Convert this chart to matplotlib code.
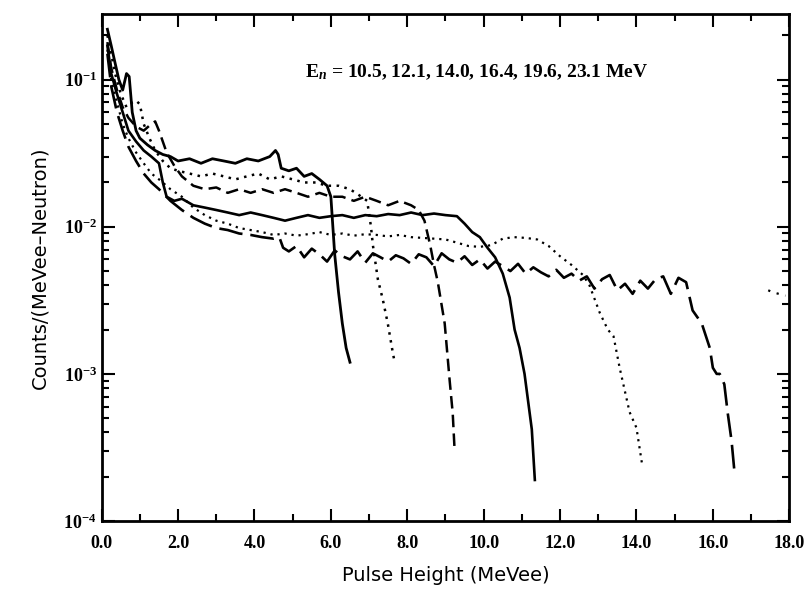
import numpy as np
import matplotlib
matplotlib.use("Agg")
import matplotlib.pyplot as plt
from matplotlib.ticker import LogLocator, MultipleLocator, NullFormatter

# neutron energies (MeV) shown in the annotation
energies = [10.5, 12.1, 14.0, 16.4, 19.6, 23.1]

# --- 10.5 MeV (solid) ---
x_105 = [0.15, 0.25, 0.35, 0.45, 0.55, 0.65, 0.72, 0.8, 0.9, 1.0,
         1.2, 1.4, 1.6, 1.8, 2.0, 2.3, 2.6, 2.9, 3.2, 3.5,
         3.8, 4.1, 4.4, 4.55, 4.62, 4.7, 4.9, 5.1, 5.3, 5.5,
         5.7, 5.9, 6.0, 6.1, 6.2, 6.3, 6.4, 6.5]
y_105 = [0.22, 0.17, 0.13, 0.10, 0.085, 0.11, 0.105, 0.06, 0.045, 0.04,
         0.036, 0.033, 0.031, 0.030, 0.028, 0.029, 0.027, 0.029, 0.028, 0.027,
         0.029, 0.028, 0.030, 0.033, 0.031, 0.025, 0.024, 0.025, 0.022, 0.023,
         0.021, 0.019, 0.016, 0.0065, 0.0036, 0.0022, 0.0015, 0.0012]

# --- 12.1 MeV (dotted) ---
x_121 = [0.15, 0.25, 0.35, 0.5, 0.65, 0.8, 0.9, 1.0, 1.1, 1.25,
         1.4, 1.6, 1.8, 2.0, 2.3, 2.6, 2.9, 3.2, 3.5, 3.8,
         4.1, 4.4, 4.7, 5.0, 5.3, 5.6, 5.9, 6.2, 6.5, 6.8,
         6.95, 7.05, 7.1, 7.23, 7.36, 7.49, 7.62, 7.67]
y_121 = [0.20, 0.15, 0.11, 0.08, 0.065, 0.07, 0.072, 0.068, 0.05, 0.04,
         0.033, 0.028, 0.025, 0.024, 0.023, 0.022, 0.023, 0.022, 0.021, 0.022,
         0.023, 0.021, 0.022, 0.021, 0.020, 0.020, 0.019, 0.019, 0.018, 0.016,
         0.015, 0.010, 0.0075, 0.0044, 0.0032, 0.0022, 0.0014, 0.0012]

# --- 14.0 MeV (dashed) ---
x_140 = [0.15, 0.25, 0.4, 0.55, 0.7, 0.9, 1.1, 1.3, 1.4, 1.5,
         1.7, 1.9, 2.1, 2.4, 2.7, 3.0, 3.3, 3.6, 3.9, 4.2,
         4.5, 4.8, 5.1, 5.4, 5.7, 6.0, 6.3, 6.6, 6.9, 7.2,
         7.5, 7.8, 8.1, 8.3, 8.45, 8.6, 8.7, 8.8, 8.98, 9.11,
         9.19, 9.24]
y_140 = [0.18, 0.12, 0.085, 0.065, 0.055, 0.048, 0.045, 0.05, 0.052, 0.045,
         0.032, 0.026, 0.022, 0.019, 0.018, 0.0185, 0.017, 0.018, 0.017, 0.018,
         0.017, 0.018, 0.017, 0.016, 0.017, 0.016, 0.016, 0.015, 0.016, 0.015,
         0.014, 0.015, 0.014, 0.013, 0.011, 0.0075, 0.0055, 0.0042, 0.0022, 0.0009,
         0.00054, 0.0003]

# --- 16.4 MeV (solid) ---
x_164 = [0.15, 0.25, 0.4, 0.55, 0.7, 0.9, 1.1, 1.3, 1.5, 1.6,
         1.7, 1.9, 2.1, 2.4, 2.7, 3.0, 3.3, 3.6, 3.9, 4.2,
         4.5, 4.8, 5.1, 5.4, 5.7, 6.0, 6.3, 6.6, 6.9, 7.2,
         7.5, 7.8, 8.1, 8.4, 8.7, 9.0, 9.3, 9.5, 9.7, 9.9,
         10.1, 10.3, 10.5, 10.68, 10.81, 10.94, 11.07, 11.26, 11.34]
y_164 = [0.17, 0.11, 0.08, 0.06, 0.045, 0.038, 0.033, 0.03, 0.027, 0.02,
         0.016, 0.015, 0.0155, 0.014, 0.0135, 0.013, 0.0125, 0.012, 0.0125, 0.012,
         0.0115, 0.011, 0.0115, 0.012, 0.0115, 0.0118, 0.012, 0.0115, 0.012, 0.0118,
         0.0122, 0.012, 0.0125, 0.012, 0.0123, 0.012, 0.0118, 0.0105, 0.0092, 0.0085,
         0.0072, 0.0062, 0.0048, 0.0033, 0.002, 0.0015, 0.001, 0.00042, 0.00019]

# --- 19.6 MeV (dotted) ---
x_196 = [0.15, 0.25, 0.4, 0.55, 0.7, 0.9, 1.1, 1.3, 1.5, 1.8,
         2.1, 2.4, 2.7, 3.0, 3.3, 3.6, 3.9, 4.2, 4.5, 4.8,
         5.1, 5.4, 5.7, 6.0, 6.3, 6.6, 6.9, 7.2, 7.5, 7.8,
         8.1, 8.4, 8.7, 9.0, 9.3, 9.6, 9.9, 10.2, 10.5, 10.8,
         11.1, 11.4, 11.7, 12.0, 12.3, 12.6, 12.77, 13.04, 13.25, 13.4,
         13.56, 13.82, 14.0, 14.14]
y_196 = [0.16, 0.10, 0.07, 0.05, 0.04, 0.032, 0.027, 0.023, 0.021, 0.018,
         0.016, 0.0135, 0.012, 0.011, 0.0105, 0.0098, 0.0095, 0.0092, 0.0088, 0.009,
         0.0087, 0.0089, 0.0092, 0.0088, 0.009, 0.0087, 0.0089, 0.0088, 0.0086, 0.0088,
         0.0085, 0.0084, 0.0083, 0.0082, 0.0078, 0.0074, 0.0073, 0.0075, 0.0083, 0.0085,
         0.0084, 0.0082, 0.0074, 0.0063, 0.0055, 0.0047, 0.0040, 0.0026, 0.002, 0.0018,
         0.0011, 0.00055, 0.00043, 0.00025]

# --- 23.1 MeV (long dash) ---
x_231 = [0.15, 0.25, 0.4, 0.55, 0.7, 0.9, 1.1, 1.3, 1.5, 1.8,
         2.1, 2.4, 2.7, 3.0, 3.3, 3.6, 3.9, 4.2, 4.5, 4.65,
         4.75, 4.9, 5.1, 5.3, 5.5, 5.7, 5.9, 6.1, 6.3, 6.5,
         6.7, 6.9, 7.1, 7.3, 7.5, 7.7, 7.9, 8.1, 8.3, 8.5,
         8.7, 8.9, 9.1, 9.3, 9.5, 9.7, 9.9, 10.1, 10.3, 10.5,
         10.7, 10.9, 11.1, 11.3, 11.5, 11.7, 11.9, 12.1, 12.3, 12.5,
         12.7, 12.9, 13.1, 13.3, 13.5, 13.7, 13.9, 14.1, 14.3, 14.5,
         14.7, 14.9, 15.1, 15.3, 15.47, 15.71, 15.92, 16.0, 16.1, 16.18,
         16.3, 16.39, 16.49, 16.57]
y_231 = [0.15, 0.09, 0.06, 0.045, 0.035, 0.028, 0.023, 0.02, 0.018, 0.015,
         0.013, 0.0115, 0.0105, 0.0098, 0.0095, 0.009, 0.0088, 0.0085, 0.0083, 0.0085,
         0.0072, 0.0068, 0.0074, 0.0062, 0.0071, 0.0065, 0.0058, 0.0069, 0.0063, 0.006,
         0.0068, 0.0057, 0.0066, 0.0062, 0.0058, 0.0064, 0.0061, 0.0056, 0.0065, 0.0062,
         0.0054, 0.0066, 0.006, 0.0057, 0.0063, 0.0055, 0.006, 0.0052, 0.0058, 0.0054,
         0.005, 0.0056, 0.0048, 0.0053, 0.0049, 0.0046, 0.0051, 0.0045, 0.0048, 0.0043,
         0.0046, 0.0038, 0.0044, 0.0047, 0.0037, 0.0041, 0.0035, 0.0043, 0.0038, 0.0044,
         0.0046, 0.0035, 0.0045, 0.0042, 0.0027, 0.0022, 0.0015, 0.0011, 0.001, 0.001,
         0.00085, 0.00054, 0.00035, 0.00021]

# stray dots near the right edge
x_stray = [17.45, 17.55, 17.9]
y_stray = [0.0037, 0.0036, 0.0034]

serif = "Liberation Serif"
plt.rcParams["mathtext.fontset"] = "custom"
plt.rcParams["mathtext.rm"] = serif
plt.rcParams["mathtext.it"] = serif + ":italic:bold"
plt.rcParams["mathtext.bf"] = serif + ":bold"

fig = plt.figure(figsize=(8.07, 6.03), dpi=100)
ax = fig.add_axes([0.126, 0.136, 0.852, 0.841])

ax.plot(x_105, y_105, "-", color="black", lw=2.0)
ax.plot(x_121, y_121, linestyle=(0, (1, 2.2)), color="black", lw=1.8)
ax.plot(x_140, y_140, linestyle=(0, (5, 2.5)), color="black", lw=1.8)
ax.plot(x_164, y_164, "-", color="black", lw=1.9)
ax.plot(x_196, y_196, linestyle=(0, (1, 2.2)), color="black", lw=1.6)
ax.plot(x_231, y_231, linestyle=(0, (9, 3)), color="black", lw=1.9)
ax.plot(x_stray, y_stray, linestyle=(0, (1, 3)), color="black", lw=1.6)

ax.set_yscale("log")
ax.set_xlim(0, 18)
ax.set_ylim(1e-4, 0.28)

ax.xaxis.set_minor_locator(MultipleLocator(1))
ax.set_xticks(np.arange(0, 19, 2))
ax.set_xticklabels([f"{v:.1f}" for v in np.arange(0, 19, 2)])
ax.yaxis.set_major_locator(LogLocator(base=10))
ax.yaxis.set_minor_locator(LogLocator(base=10, subs=np.arange(2, 10)))
ax.yaxis.set_minor_formatter(NullFormatter())

ax.tick_params(which="both", direction="in", top=True, right=True, width=1.5)
ax.tick_params(which="major", length=9)
ax.tick_params(which="minor", length=5)
ax.tick_params(axis="x", pad=10)
for lab in ax.get_xticklabels() + ax.get_yticklabels():
    lab.set_fontfamily(serif)
    lab.set_fontweight("bold")
    lab.set_fontsize(13)
for s in ax.spines.values():
    s.set_linewidth(2)

ax.set_xlabel("Pulse Height (MeVee)", fontsize=14, labelpad=10)
ax.set_ylabel("Counts/(MeVee\u2013Neutron)", fontsize=14, labelpad=10)

ax.text(0.295, 0.885, r"E$_n$ = 10.5, 12.1, 14.0, 16.4, 19.6, 23.1 MeV",
        transform=ax.transAxes, fontsize=14, fontfamily=serif,
        fontweight="bold", va="center", ha="left")

fig.savefig("out.png", dpi=100)
